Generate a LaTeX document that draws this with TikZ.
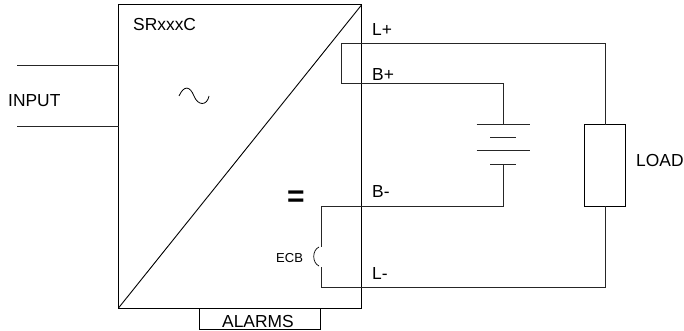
\documentclass[tikz,border=0pt]{standalone}
\usepackage{xcolor}
\usepackage{fontspec}
\setmainfont{Liberation Sans}
\usetikzlibrary{calc}
\colorlet{mywire}{black!85}
\begin{document}
\begin{tikzpicture}[
    x=1pt,y=-1pt,
    wire/.style={mywire,line width=1.0},
    block/.style={draw=black,line width=1.0,inner sep=0,outer sep=0},
    label/.style={inner sep=0,anchor=base west,font=\fontsize{17.4}{19}\selectfont},
    small/.style={inner sep=0,anchor=base west,font=\fontsize{13}{15}\selectfont}
  ]
  
  \useasboundingbox (0,0) rectangle (684,331);
  \def\xbat{503}
  \def\xload{605}
  
  % CONVERTER
  \node[block,minimum width=243,minimum height=303] (conv) at (240,156.5) {};
  \draw[line width=0.9] (conv.south west) -- (conv.north east);
  \node[block,minimum width=121,minimum height=21] (alarms) at (259.5,318.5) {};
  \node[label] (alarmtext) at (222,327) {ALARMS};
  \node[label] (name) at (133,31) {SRxxxC};
  \node[label] (input) at (8,107) {INPUT};
  \node[label,font=\bfseries\fontsize{30}{30}\selectfont] (equal) at (287,206) {=};
  \draw[line width=0.8] (179,96) .. controls (184,85) and (190,86) .. (194,96)
    .. controls (198,106) and (207,106) .. (209,96);
  
  % INPUT
  \coordinate (inA) at (17,66);
  \coordinate (inB) at (17,127);
  \draw[wire] (inA) -- (inA -| conv.west);
  \draw[wire] (inB) -- (inB -| conv.west);
  
  % LOAD
  \node[block,minimum width=41,minimum height=81] (load) at (\xload,165.5) {};
  \node[label] (loadtext) at (636,166) {LOAD};
  
  % BATTERY
  \foreach \y/\w in {125/26.5,138/13,151/26.5,164/13}{
    \draw[wire] (\xbat-\w,\y) -- (\xbat+\w,\y);
  }
  \coordinate (batP) at (\xbat,125);
  \coordinate (batN) at (\xbat,164);
  
  % WIRES
  \coordinate (lineP) at (341,44);
  \coordinate (lineB) at (341,84);
  \coordinate (lineN) at (321,206);
  \coordinate (lineL) at (321,287);
  \coordinate (ecbA) at (321,247);
  \coordinate (ecbB) at (321,267);
  \draw[wire] (load.north) |- (lineP) -- (lineB) -| (batP);
  \draw[wire] (batN) |- (lineN) -- (ecbA);
  \draw[wire] (ecbB) -- (lineL) -| (load.south);
  \draw[line width=0.7] (ecbA) ++(-2,0) .. controls (312,250) and (312,263) .. ($(ecbB)+(-2,-1)$);
  
  % LABELS
  \node[label] (lp) at (372,36) {L+};
  \node[label] (bp) at (372,81) {B+};
  \node[label] (bn) at (372,197) {B-};
  \node[label] (ln) at (372,279) {L-};
  \node[small] (ecb) at (276,262) {ECB};
  
\end{tikzpicture}
\end{document}
